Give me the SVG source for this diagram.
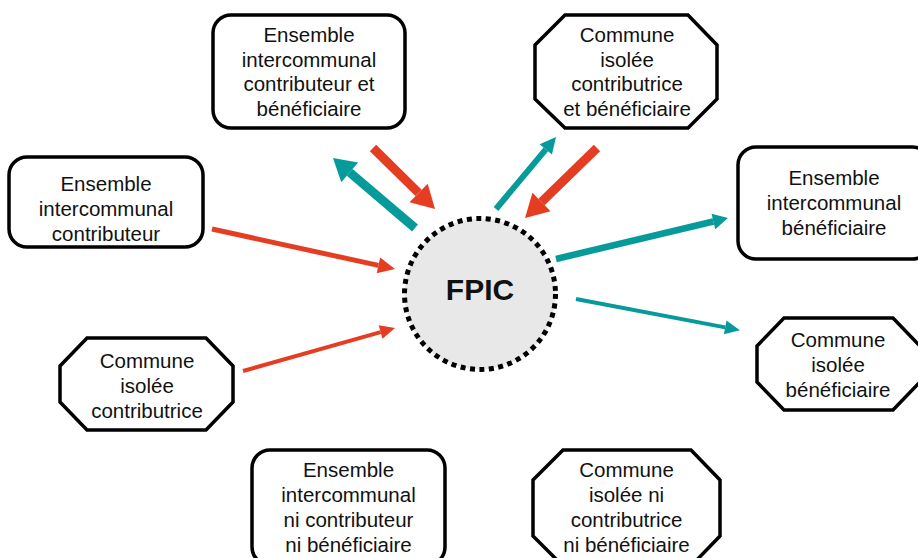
<svg xmlns="http://www.w3.org/2000/svg" width="918" height="558" viewBox="0 0 918 558">
<style>
.box{fill:#fff;stroke:#000;stroke-width:3.5;stroke-linejoin:miter}
.t{font-family:"Liberation Sans",Arial,sans-serif;font-size:20.5px;fill:#111;text-anchor:middle}
.red{stroke:#e53d22;fill:none}
.teal{stroke:#069a9a;fill:none}
</style>
<defs>
<marker id="hRedBig" markerUnits="userSpaceOnUse" markerWidth="30" markerHeight="30" refX="0" refY="13" orient="auto" viewBox="0 0 30 30" overflow="visible"><path d="M0,0 L23,13 L0,26 z" fill="#e53d22"/></marker>
<marker id="hTealBig" markerUnits="userSpaceOnUse" markerWidth="30" markerHeight="30" refX="0" refY="13" orient="auto" viewBox="0 0 30 30" overflow="visible"><path d="M0,0 L22,13 L0,26 z" fill="#069a9a"/></marker>
<marker id="hRedMid" markerUnits="userSpaceOnUse" markerWidth="20" markerHeight="20" refX="0" refY="8" orient="auto" viewBox="0 0 20 20" overflow="visible"><path d="M0,0 L17,8 L0,16 z" fill="#e53d22"/></marker>
<marker id="hRedSm" markerUnits="userSpaceOnUse" markerWidth="20" markerHeight="20" refX="0" refY="7" orient="auto" viewBox="0 0 20 20" overflow="visible"><path d="M0,0 L15,7 L0,14 z" fill="#e53d22"/></marker>
<marker id="hTealMid" markerUnits="userSpaceOnUse" markerWidth="20" markerHeight="20" refX="0" refY="8" orient="auto" viewBox="0 0 20 20" overflow="visible"><path d="M0,0 L15,8 L0,16 z" fill="#069a9a"/></marker>
<marker id="hTealSm" markerUnits="userSpaceOnUse" markerWidth="20" markerHeight="20" refX="0" refY="7" orient="auto" viewBox="0 0 20 20" overflow="visible"><path d="M0,0 L15,7 L0,14 z" fill="#069a9a"/></marker>
<marker id="hTealUp" markerUnits="userSpaceOnUse" markerWidth="20" markerHeight="20" refX="0" refY="8" orient="auto" viewBox="0 0 20 20" overflow="visible"><path d="M0,0 L16,8 L0,16 z" fill="#069a9a"/></marker>
</defs>
<rect width="918" height="558" fill="#fff"/>

<g id="connectors">
<line class="teal" x1="415" y1="228" x2="349.7" y2="172.3" stroke-width="9" marker-end="url(#hTealBig)"/>
<line class="red" x1="373" y1="148" x2="418.6" y2="192.9" stroke-width="9" marker-end="url(#hRedBig)"/>
<line class="teal" x1="496" y1="209" x2="545.8" y2="149.3" stroke-width="6" marker-end="url(#hTealUp)"/>
<line class="red" x1="597" y1="148" x2="541.5" y2="202" stroke-width="9" marker-end="url(#hRedBig)"/>
<line class="red" x1="212" y1="229" x2="378.4" y2="265.4" stroke-width="5" marker-end="url(#hRedMid)"/>
<line class="red" x1="243" y1="371" x2="380.6" y2="332.1" stroke-width="4" marker-end="url(#hRedSm)"/>
<line class="teal" x1="556" y1="259" x2="713.4" y2="221.5" stroke-width="6.5" marker-end="url(#hTealMid)"/>
<line class="teal" x1="576" y1="299" x2="725.2" y2="327.4" stroke-width="4" marker-end="url(#hTealSm)"/>
</g>

<g id="fpic">
<circle cx="480" cy="294" r="75.5" fill="#e8e8e8" stroke="#000" stroke-width="5" stroke-dasharray="5 4.5"/>
<text x="480" y="300" font-family="Liberation Sans, Arial, sans-serif" font-size="30" font-weight="bold" text-anchor="middle" fill="#111">FPIC</text>
</g>

<g id="ei-contrib-benef">
<rect class="box" x="213" y="15" width="192" height="113" rx="18"/>
<text class="t" x="309" y="42">Ensemble</text>
<text class="t" x="309" y="66.5">intercommunal</text>
<text class="t" x="309" y="91">contributeur et</text>
<text class="t" x="309" y="115.5">bénéficiaire</text>
</g>

<g id="ci-contrib-benef">
<polygon class="box" points="565,15 688,15 717,45 717,99 688,128 565,128 535,99 535,45"/>
<text class="t" x="627" y="42">Commune</text>
<text class="t" x="627" y="66.5">isolée</text>
<text class="t" x="627" y="91">contributrice</text>
<text class="t" x="627" y="115.5">et bénéficiaire</text>
</g>

<g id="ei-contrib">
<rect class="box" x="9" y="157" width="194" height="90" rx="18"/>
<text class="t" x="106" y="191">Ensemble</text>
<text class="t" x="106" y="216">intercommunal</text>
<text class="t" x="106" y="240.5">contributeur</text>
</g>

<g id="ci-contrib">
<polygon class="box" points="87,338 206,338 233,366 233,402 206,430 87,430 60,402 60,366"/>
<text class="t" x="147" y="368">Commune</text>
<text class="t" x="147" y="393">isolée</text>
<text class="t" x="147" y="418">contributrice</text>
</g>

<g id="ei-benef">
<rect class="box" x="738" y="147" width="192" height="112" rx="18"/>
<text class="t" x="834" y="185">Ensemble</text>
<text class="t" x="834" y="210">intercommunal</text>
<text class="t" x="834" y="235">bénéficiaire</text>
</g>

<g id="ci-benef">
<polygon class="box" points="784,318 893,318 920,346 920,382 893,410 784,410 757,382 757,346"/>
<text class="t" x="838" y="347">Commune</text>
<text class="t" x="838" y="372">isolée</text>
<text class="t" x="838" y="397">bénéficiaire</text>
</g>

<g id="ei-ni">
<rect class="box" x="252" y="450" width="193" height="115" rx="18"/>
<text class="t" x="348.5" y="477">Ensemble</text>
<text class="t" x="348.5" y="502">intercommunal</text>
<text class="t" x="348.5" y="527">ni contributeur</text>
<text class="t" x="348.5" y="552">ni bénéficiaire</text>
</g>

<g id="ci-ni">
<polygon class="box" points="563,450 691,450 720,480 720,536 691,566 563,566 533,536 533,480"/>
<text class="t" x="626.5" y="477">Commune</text>
<text class="t" x="626.5" y="502">isolée ni</text>
<text class="t" x="626.5" y="527">contributrice</text>
<text class="t" x="626.5" y="552">ni bénéficiaire</text>
</g>
</svg>
